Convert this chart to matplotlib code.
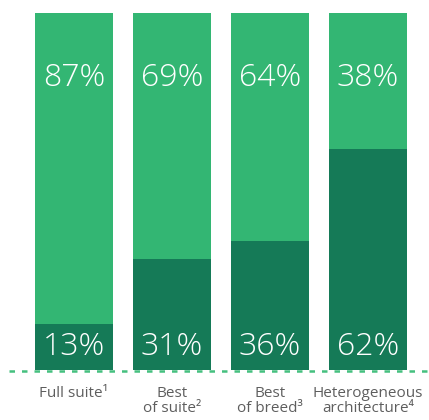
import numpy as np
import matplotlib.pyplot as plt

categories = ['Full suite\u00b9', 'Best\nof suite\u00b2', 'Best\nof breed\u00b3', 'Heterogeneous\narchitecture\u2074']
bottom_vals = [13, 31, 36, 62]
top_vals = [87, 69, 64, 38]

light = '#33b673'
dark = '#157a57'

fig = plt.figure(figsize=(4.29, 4.20), dpi=100)
ax = fig.add_axes([0, 50 / 420, 1, 357 / 420])

x = np.arange(len(categories))
w = 0.796
ax.bar(x, bottom_vals, width=w, color=dark, zorder=2)
ax.bar(x, top_vals, width=w, bottom=bottom_vals, color=light, zorder=2)

for xi, b, t, cat in zip(x, bottom_vals, top_vals, categories):
    ax.text(xi, 81.8, f'{t}%', ha='center', va='center', color='white',
            fontsize=23, family='Open Sans', fontweight='light', zorder=5)
    ax.text(xi, 6.4, f'{b}%', ha='center', va='center', color='white',
            fontsize=23, family='Open Sans', fontweight='light', zorder=5)
    ax.text(xi, -4.5, cat, ha='center', va='top',
            color='#5e5e5e', fontsize=11, family='Open Sans', linespacing=0.95)

ax.axhline(-0.3, xmin=0.02, xmax=1, color='#45c07f', lw=1.8,
           ls=(0, (2.2, 2.8)), clip_on=False, zorder=1)

ax.set_xlim(-0.755, 3.622)
ax.set_ylim(0, 100)
ax.axis('off')

fig.savefig('out.png', dpi=100)
